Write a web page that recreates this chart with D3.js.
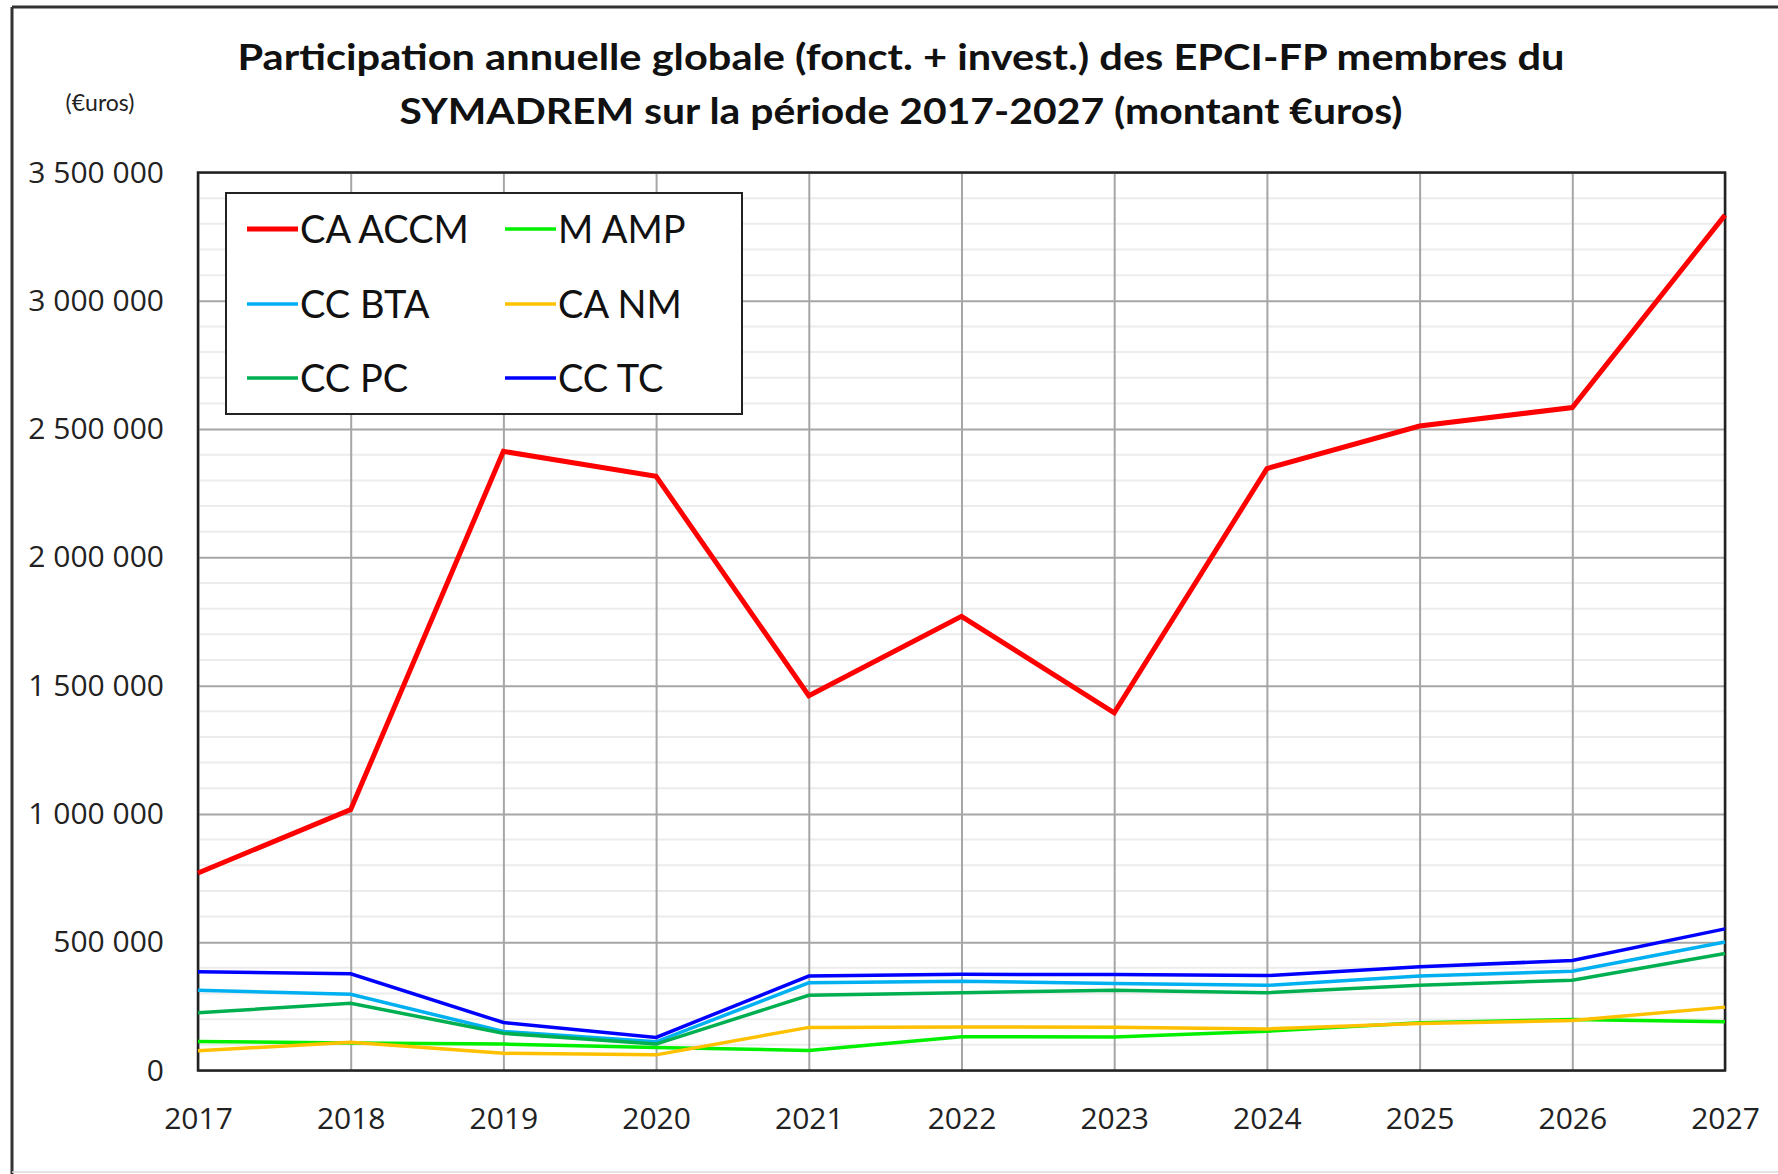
<!DOCTYPE html>
<html>
<head>
<meta charset="utf-8">
<script src="https://cdn.jsdelivr.net/npm/d3@7"></script>
<style>
  html, body { margin: 0; padding: 0; background: #fff; }
  svg { display: block; }
</style>
</head>
<body>
<svg id="chart" width="1778" height="1174"></svg>
<script>
const years = [2017, 2018, 2019, 2020, 2021, 2022, 2023, 2024, 2025, 2026, 2027];
const seriesNames = ["CA ACCM", "M AMP", "CC BTA", "CA NM", "CC PC", "CC TC"];
const caAccm = [770000, 1017000, 2413000, 2316000, 1461000, 1770000, 1394000, 2346000, 2512000, 2584000, 3334000];
const mAmp   = [113000, 107000, 103000, 90000, 78000, 132000, 131000, 153000, 186000, 199000, 190000];
const ccBta  = [313000, 297000, 152000, 112000, 342000, 348000, 339000, 332000, 368000, 387000, 501000];
const caNm   = [77000, 110000, 67000, 61000, 168000, 170000, 169000, 162000, 183000, 195000, 247000];
const ccPc   = [225000, 262000, 145000, 103000, 293000, 303000, 313000, 303000, 332000, 352000, 456000];
const ccTc   = [385000, 377000, 187000, 129000, 368000, 375000, 374000, 370000, 404000, 429000, 552000];
const yTicks = [0, 500000, 1000000, 1500000, 2000000, 2500000, 3000000, 3500000];
const titleLines = ["Participation annuelle globale (fonct. + invest.) des EPCI-FP membres du",
                    "SYMADREM sur la période 2017-2027 (montant €uros)"];
const unitLabel = "(€uros)";

const seriesValues = [caAccm, mAmp, ccBta, caNm, ccPc, ccTc];
const colors = ["#FF0000", "#00F000", "#00B0F0", "#FFC000", "#00B050", "#0000FF"];
const widths = [5, 3.5, 3.5, 3.5, 3.5, 3.5];

const svg = d3.select("#chart");
const L = 198, R = 1725, T = 172.5, B = 1070.5;

const x = d3.scaleLinear().domain([2017, 2027]).range([L, R]);
const y = d3.scaleLinear().domain([0, 3500000]).range([B, T]);

// outer frame
svg.append("line").attr("x1", 12).attr("x2", 1778).attr("y1", 7).attr("y2", 7)
  .attr("stroke", "#333").attr("stroke-width", 3);
svg.append("line").attr("x1", 12).attr("x2", 12).attr("y1", 7).attr("y2", 1174)
  .attr("stroke", "#333").attr("stroke-width", 3);
svg.append("line").attr("x1", 12).attr("x2", 1778).attr("y1", 1172).attr("y2", 1172)
  .attr("stroke", "#ddd").attr("stroke-width", 1.5);

// minor gridlines
const minor = d3.range(100000, 3500000, 100000).filter(v => v % 500000 !== 0);
svg.append("g").selectAll("line").data(minor).join("line")
  .attr("x1", L).attr("x2", R).attr("y1", d => y(d)).attr("y2", d => y(d))
  .attr("stroke", "#ececec").attr("stroke-width", 2);

// major horizontal gridlines via axis
const yGrid = svg.append("g").attr("transform", `translate(${L},0)`)
  .call(d3.axisLeft(y).tickValues(yTicks).tickSize(-(R - L)).tickFormat(""));
yGrid.select(".domain").remove();
yGrid.selectAll("line").attr("stroke", "#a6a6a6").attr("stroke-width", 2);

// vertical gridlines
const xGrid = svg.append("g").attr("transform", `translate(0,${B})`)
  .call(d3.axisBottom(x).tickValues(years).tickSize(-(B - T)).tickFormat(""));
xGrid.select(".domain").remove();
xGrid.selectAll("line").attr("stroke", "#a6a6a6").attr("stroke-width", 2);

// plot border
svg.append("rect").attr("x", L).attr("y", T).attr("width", R - L).attr("height", B - T)
  .attr("fill", "none").attr("stroke", "#222").attr("stroke-width", 2.5);

// y tick labels
const fmt = v => d3.format(",")(v).replace(/,/g, " ");
const yAx = svg.append("g").attr("transform", `translate(${L},0)`)
  .call(d3.axisLeft(y).tickValues(yTicks).tickSize(0).tickPadding(34).tickFormat(fmt));
yAx.select(".domain").remove();
yAx.selectAll("text").attr("font-family", "'Open Sans', sans-serif").attr("font-size", 30)
  .attr("fill", "#222");

// x tick labels
const xAx = svg.append("g").attr("transform", `translate(0,${B})`)
  .call(d3.axisBottom(x).tickValues(years).tickSize(0).tickPadding(37).tickFormat(d3.format("d")));
xAx.select(".domain").remove();
xAx.selectAll("text").attr("font-family", "'Open Sans', sans-serif").attr("font-size", 30)
  .attr("fill", "#222");

// lines
const line = d3.line().x((d, i) => x(years[i])).y(d => y(d));
seriesValues.forEach((vals, k) => {
  if (k === 0) return;
  svg.append("path").datum(vals).attr("d", line).attr("fill", "none")
    .attr("stroke", colors[k]).attr("stroke-width", widths[k]).attr("stroke-linejoin", "miter");
});
svg.append("path").datum(seriesValues[0]).attr("d", line).attr("fill", "none")
  .attr("stroke", colors[0]).attr("stroke-width", widths[0]).attr("stroke-linejoin", "miter");

// legend
const lg = svg.append("g");
lg.append("rect").attr("x", 226).attr("y", 193).attr("width", 516).attr("height", 221)
  .attr("fill", "#fff").attr("stroke", "#222").attr("stroke-width", 2);
const colX = [247, 505], rowY = [229, 304, 378];
seriesNames.forEach((name, i) => {
  const cx = colX[i % 2], cy = rowY[Math.floor(i / 2)];
  lg.append("line").attr("x1", cx).attr("x2", cx + 51).attr("y1", cy).attr("y2", cy)
    .attr("stroke", colors[i]).attr("stroke-width", widths[i]);
  lg.append("text").attr("x", cx + 53).attr("y", cy).attr("dy", "0.36em")
    .attr("font-family", "Lato, sans-serif").attr("font-size", 38).attr("fill", "#111")
    .text(name);
});

// title
svg.append("text").attr("x", 901).attr("y", 57).attr("dy", "0.36em").attr("text-anchor", "middle")
  .attr("font-family", "Lato, sans-serif").attr("font-weight", "bold").attr("font-size", 37)
  .attr("textLength", 1327).attr("lengthAdjust", "spacingAndGlyphs").attr("fill", "#111")
  .text(titleLines[0]);
svg.append("text").attr("x", 901).attr("y", 111).attr("dy", "0.36em").attr("text-anchor", "middle")
  .attr("font-family", "Lato, sans-serif").attr("font-weight", "bold").attr("font-size", 37)
  .attr("textLength", 1003).attr("lengthAdjust", "spacingAndGlyphs").attr("fill", "#111")
  .text(titleLines[1]);

// unit label
svg.append("text").attr("x", 100).attr("y", 103).attr("dy", "0.36em").attr("text-anchor", "middle")
  .attr("font-family", "Lato, sans-serif").attr("font-size", 23).attr("fill", "#222")
  .text(unitLabel);
</script>
</body>
</html>
